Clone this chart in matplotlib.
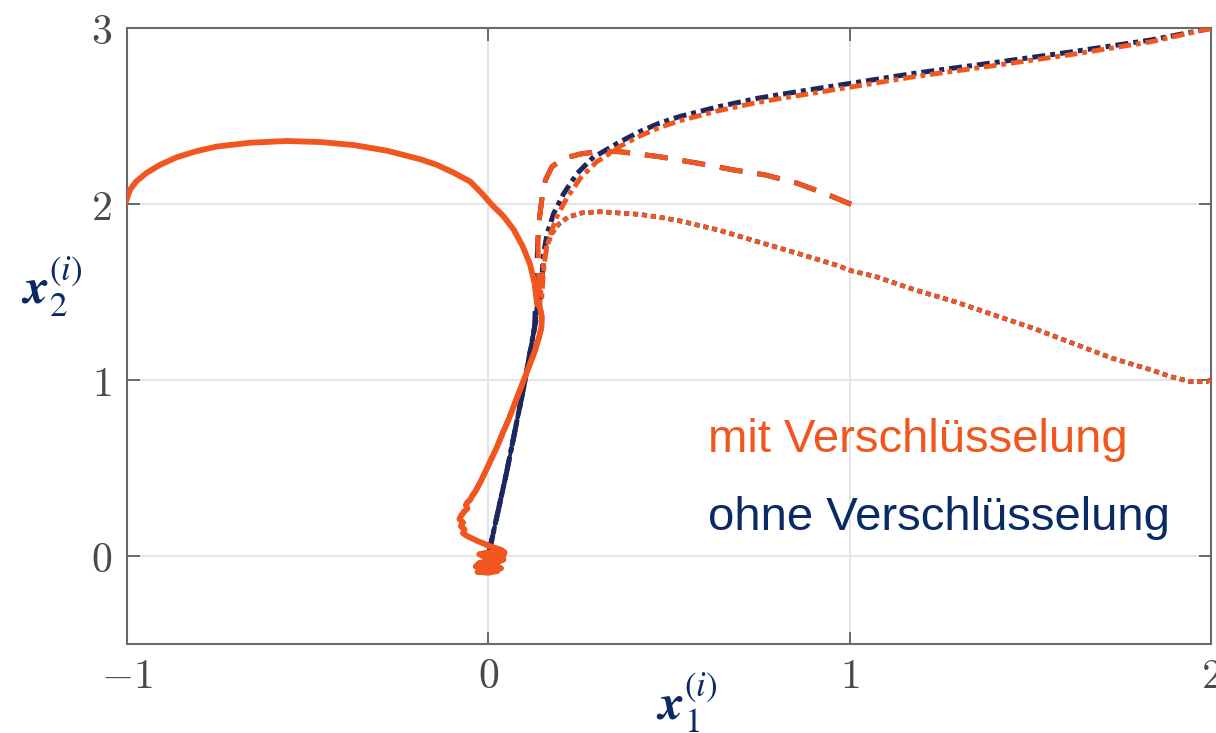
import matplotlib
matplotlib.use("Agg")
import matplotlib.pyplot as plt

ORANGE = "#F2561F"
NAVY = "#1C2760"
TEXT_NAVY = "#0A2A66"

# ---------------- data ----------------
# Agent starting at (-1, 2): solid line, arc part
arc_x = [-1.003, -0.992, -0.975, -0.947, -0.909, -0.863, -0.808, -0.753, -0.66, -0.558,
         -0.465, -0.373, -0.281, -0.188, -0.142, -0.096, -0.05, -0.02, 0.01, 0.042,
         0.07, 0.095, 0.115, 0.128, 0.135]
arc_y = [2.013, 2.08, 2.127, 2.175, 2.222, 2.265, 2.30, 2.326, 2.348, 2.358,
         2.352, 2.335, 2.303, 2.254, 2.222, 2.178, 2.127, 2.065, 1.995, 1.93,
         1.855, 1.76, 1.66, 1.55, 1.43]

# Agent starting at (2, 3): dash-dot line
dd_nav_x = [2.0, 1.834, 1.616, 1.399, 1.181, 1.004, 0.855, 0.746, 0.637, 0.528, 0.473,
            0.419, 0.365, 0.31, 0.292, 0.246, 0.209, 0.181, 0.163, 0.153, 0.149, 0.144]
dd_nav_y = [2.998, 2.932, 2.865, 2.803, 2.743, 2.686, 2.638, 2.601, 2.553, 2.496, 2.459,
            2.411, 2.354, 2.288, 2.269, 2.174, 2.061, 1.947, 1.834, 1.72, 1.606, 1.473]
dd_ora_x = [2.0, 1.834, 1.616, 1.399, 1.181, 1.004, 0.855, 0.746, 0.637, 0.528, 0.473,
            0.419, 0.365, 0.32, 0.30, 0.256, 0.219, 0.19, 0.17, 0.158, 0.152, 0.148]
dd_ora_y = [2.998, 2.922, 2.85, 2.786, 2.724, 2.665, 2.615, 2.578, 2.53, 2.472, 2.434,
            2.386, 2.328, 2.265, 2.24, 2.15, 2.04, 1.93, 1.82, 1.71, 1.60, 1.47]

# Agent starting at (1, 2): dashed line
da_x = [1.004, 0.942, 0.855, 0.767, 0.680, 0.582, 0.473, 0.365, 0.31, 0.255, 0.209,
        0.176, 0.158, 0.149, 0.142, 0.137]
da_y = [1.998, 2.051, 2.118, 2.165, 2.193, 2.231, 2.269, 2.297, 2.300, 2.284, 2.26,
        2.212, 2.136, 2.041, 1.928, 1.795]

# Agent starting at (2, 1): dotted line
do_x = [2.0, 1.987, 1.943, 1.889, 1.835, 1.726, 1.617, 1.508, 1.400, 1.291, 1.182,
        1.073, 1.004, 0.963, 0.855, 0.745, 0.637, 0.528, 0.474, 0.419, 0.31, 0.26,
        0.22, 0.195, 0.175, 0.16, 0.15]
do_y = [1.0, 0.991, 0.991, 1.019, 1.057, 1.124, 1.209, 1.294, 1.369, 1.445, 1.511,
        1.587, 1.621, 1.653, 1.72, 1.786, 1.852, 1.905, 1.925, 1.941, 1.956, 1.95,
        1.925, 1.885, 1.83, 1.75, 1.62]

# Common final approach to the origin without encryption
tail_nav_x = [0.135, 0.128, 0.10, 0.05, 0.005, 0.0]
tail_nav_y = [1.45, 1.30, 0.98, 0.47, 0.05, 0.0]

# Common final approach with encryption (noisy)
tail_ora_x = [0.142, 0.148, 0.147, 0.14, 0.128, 0.115, 0.10, 0.085, 0.07, 0.055, 0.04,
              0.024, 0.008, -0.008, -0.022, -0.035, -0.045, -0.05, -0.058, -0.062,
              -0.058, -0.068, -0.075, -0.08, -0.07, -0.076, -0.066, -0.07, -0.06,
              -0.045, -0.03, -0.012, 0.005, 0.02, 0.035, 0.045, 0.04, 0.02, -0.01,
              -0.025, 0.0, 0.03, 0.042, 0.025, 0.0, -0.025, -0.035, -0.01, 0.02,
              0.035, 0.01, -0.02, -0.03, 0.0, 0.025, 0.01, -0.01]
tail_ora_y = [1.42, 1.36, 1.30, 1.24, 1.16, 1.09, 1.01, 0.93, 0.85, 0.77, 0.70,
              0.62, 0.55, 0.48, 0.42, 0.37, 0.34, 0.32, 0.305, 0.29,
              0.27, 0.25, 0.23, 0.21, 0.19, 0.17, 0.15, 0.13, 0.115,
              0.10, 0.085, 0.07, 0.055, 0.045, 0.035, 0.02, 0.0, -0.01, -0.005,
              0.01, 0.02, 0.01, -0.02, -0.035, -0.03, -0.04, -0.06, -0.05, -0.055,
              -0.07, -0.085, -0.075, -0.09, -0.095, -0.085, -0.07, -0.08]

# ---------------- figure ----------------
fig = plt.figure(figsize=(12.16, 7.33), dpi=100)
ax = fig.add_axes([127 / 1216, 1 - 644 / 733, (1211 - 127) / 1216, (644 - 28) / 733])

def seg(x1, y1, x2, y2):
    return list(x1) + list(x2), list(y1) + list(y2)

DASHDOT = (0, (2.6, 1.0, 1.0, 1.0))
DASHED = (0, (4.6, 3.0))
DOTTED = (0, (1.1, 0.85))

# navy (ohne Verschlüsselung)
x, y = seg(arc_x, arc_y, tail_nav_x, tail_nav_y)
ax.plot(x, y, color=NAVY, lw=2.6, zorder=3)
x, y = seg(dd_nav_x, dd_nav_y, tail_nav_x[1:], tail_nav_y[1:])
ax.plot(x, y, color=NAVY, lw=3.6, ls=DASHDOT, zorder=3)
x, y = seg(da_x, da_y, tail_nav_x[1:], tail_nav_y[1:])
ax.plot(x, y, color=NAVY, lw=3.6, ls=DASHED, zorder=3)
x, y = seg(do_x, do_y, tail_nav_x[1:], tail_nav_y[1:])
ax.plot(x, y, color=NAVY, lw=3.3, ls=DOTTED, zorder=3)

# orange (mit Verschlüsselung)
x, y = seg(arc_x, arc_y, tail_ora_x, tail_ora_y)
ax.plot(x, y, color=ORANGE, lw=4.2, zorder=4, solid_joinstyle="round")
x, y = seg(dd_ora_x, dd_ora_y, tail_ora_x, tail_ora_y)
ax.plot(x, y, color=ORANGE, lw=3.5, ls=DASHDOT, zorder=4)
x, y = seg(da_x, da_y, tail_ora_x, tail_ora_y)
ax.plot(x, y, color=ORANGE, lw=3.6, ls=DASHED, zorder=4)
x, y = seg(do_x, do_y, tail_ora_x, tail_ora_y)
ax.plot(x, y, color=ORANGE, lw=3.3, ls=DOTTED, zorder=4)

ax.set_xlim(-1, 2)
ax.set_ylim(-0.5, 3)
ax.set_xticks([-1, 0, 1, 2])
ax.set_yticks([0, 1, 2, 3])
ax.set_xticklabels([r"$-1$", r"$0$", r"$1$", r"$2$"], math_fontfamily="cm")
ax.set_yticklabels([r"$0$", r"$1$", r"$2$", r"$3$"], math_fontfamily="cm")
ax.tick_params(direction="in", length=9, width=1.2, color="#555555",
               labelsize=30, labelcolor="#4a4a4a", top=True, right=True, pad=8)
ax.tick_params(axis="y", pad=11)
ax.grid(True, color="#e2e2e2", lw=1.3)
ax.set_axisbelow(True)
for s in ax.spines.values():
    s.set_color("#6a6a6a")
    s.set_linewidth(1.5)

ax.text(0.607, 0.59, "mit Verschlüsselung", color=ORANGE, fontsize=34,
        family="Liberation Sans", va="baseline", ha="left", zorder=5)
ax.text(0.607, 0.148, "ohne Verschlüsselung", color=TEXT_NAVY, fontsize=34,
        family="Liberation Sans", va="baseline", ha="left", zorder=5)

fig.text(687 / 1216, 1 - 703 / 733, r"$\mathbfit{x}_1^{(i)}$", color=TEXT_NAVY,
         fontsize=36, ha="center", va="center", math_fontfamily="stix")
fig.text(52 / 1216, 1 - 287 / 733, r"$\mathbfit{x}_2^{(i)}$", color=TEXT_NAVY,
         fontsize=36, ha="center", va="center", math_fontfamily="stix")

fig.savefig("out.png", dpi=100)
